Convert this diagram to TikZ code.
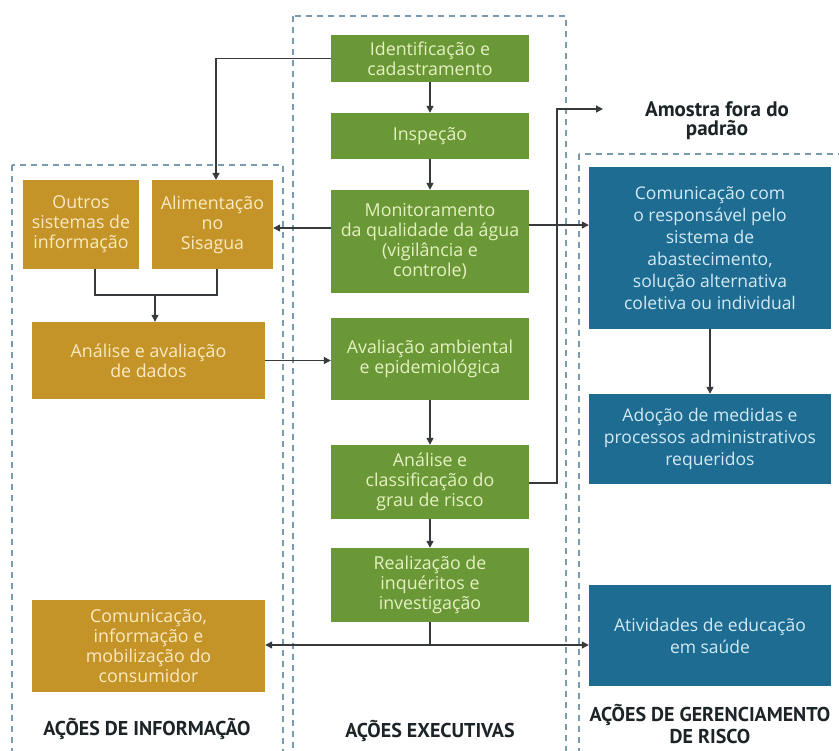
\documentclass[tikz,border=0pt]{standalone}
\usepackage{fontspec}
\setmainfont{Open Sans}
\newfontfamily\labfont{PT Sans}
\usetikzlibrary{arrows.meta,calc}
\definecolor{grn}{RGB}{106,152,54}
\definecolor{org}{RGB}{196,148,40}
\definecolor{blu}{RGB}{30,108,146}
\definecolor{dsh}{RGB}{120,155,176}
\definecolor{lnk}{RGB}{55,58,60}
\definecolor{gtxt}{RGB}{230,241,195}
\definecolor{otxt}{RGB}{250,234,195}
\definecolor{btxt}{RGB}{210,234,244}
\definecolor{ltxt}{RGB}{28,36,40}
\tikzset{
  box/.style={inner sep=0pt, align=center, font=\fontsize{17.8}{20}\selectfont},
  gbox/.style={box, fill=grn, text=gtxt, minimum width=198pt},
  obox/.style={box, fill=org, text=otxt},
  bbox/.style={box, fill=blu, text=btxt, minimum width=242pt, font=\fontsize{17.5}{22}\selectfont},
  cont/.style={draw=dsh, line width=1.2pt, dash pattern=on 6pt off 5pt},
  arr/.style={draw=lnk, line width=1.3pt, -{Triangle[length=7pt,width=7pt]}},
  lnkl/.style={draw=lnk, line width=1.3pt},
  lab/.style={text=ltxt, font=\labfont\bfseries\fontsize{20}{22}\selectfont, align=center}
}
\begin{document}
\begin{tikzpicture}[x=1pt,y=-1pt]
\useasboundingbox (0,0) rectangle (839,751);
\clip (0,0) rectangle (839,751);
\fill[white] (0,0) rectangle (839,751);
% containers
\draw[cont] (12,165) rectangle (283,770);
\draw[cont] (293,16) rectangle (566,770);
\draw[cont] (579,154) rectangle (860,770);
% green boxes
\node[gbox, minimum height=47pt] (ident) at (430,58.5) {Identificação e\\cadastramento};
\node[gbox, minimum height=46pt] (insp) at (430,136) {Inspeção};
\node[gbox, minimum height=103pt] (monit) at (430,241.5) {Monitoramento\\da qualidade da água\\(vigilância e\\controle)};
\node[gbox, minimum height=82pt] (aval) at (430,359) {Avaliação ambiental\\e epidemiológica};
\node[gbox, minimum height=74pt] (anal) at (430,482) {Análise e\\classificação do\\grau de risco};
\node[gbox, minimum height=74pt] (realiz) at (430,585) {Realização de\\inquéritos e\\investigação};
% orange boxes
\node[obox, minimum width=116pt, minimum height=89pt] (outros) at (81,224.5) {Outros\\sistemas de\\informação};
\node[obox, minimum width=121pt, minimum height=89pt] (alim) at (212.5,224.5) {Alimentação\\no\\Sisagua};
\node[obox, minimum width=233pt, minimum height=77pt] (dados) at (148.5,360.5) {Análise e avaliação\\de dados};
\node[obox, minimum width=233pt, minimum height=92pt] (consum) at (148.5,646) {Comunicação,\\informação e\\mobilização do\\consumidor};
% blue boxes
\node[bbox, minimum height=162pt] (comun) at (710,248) {Comunicação com\\o responsável pelo\\sistema de\\abastecimento,\\solução alternativa\\coletiva ou individual};
\node[bbox, minimum height=90pt] (adoc) at (710,439) {Adoção de medidas e\\processos administrativos\\requeridos};
\node[bbox, minimum height=101pt] (ativ) at (710,635.5) {Atividades de educação\\em saúde};
% labels
\node[lab, font=\labfont\bfseries\fontsize{21}{19}\selectfont] (amostra) at (717,121) {Amostra fora do\\padrão};
\coordinate (amo) at (603,109);
\node[lab] (linfo) at (147,729) {AÇÕES DE INFORMAÇÃO};
\node[lab] (lexec) at (430,731) {AÇÕES EXECUTIVAS};
\node[lab] (lger) at (710,724) {AÇÕES DE GERENCIAMENTO\\DE RISCO};
% connectors
\draw[arr] (ident.west) -| ([xshift=3.5pt]alim.north);
\draw[arr] (ident) -- (insp);
\draw[arr] (insp) -- (monit);
\draw[arr] ([yshift=13.5]monit.west) -- ([yshift=13.5]monit.west -| alim.east);
\draw[arr] ([yshift=16.5]monit.east) -- ([yshift=16.5]monit.east -| comun.west);
\coordinate (m) at (155,295);
\draw[lnkl] ([xshift=14pt]outros.south) |- (m);
\draw[lnkl] ([xshift=4.5pt]alim.south) |- (m);
\draw[arr] (m) -- (m |- dados.north);
\draw[arr] (dados.east) -- (dados.east -| aval.west);
\draw[arr] (aval) -- (anal);
\draw[arr] (anal) -- (realiz);
\coordinate (k) at (557,483);
\draw[arr] (anal.east |- k) -- (k) |- (amo);
\coordinate (j) at (430,645);
\draw[lnkl] (realiz.south) -- (j);
\draw[arr] (j) -- (j -| consum.east);
\draw[arr] (j) -- (j -| ativ.west);
\draw[arr] (comun.south) -- (adoc.north);
\end{tikzpicture}
\end{document}
